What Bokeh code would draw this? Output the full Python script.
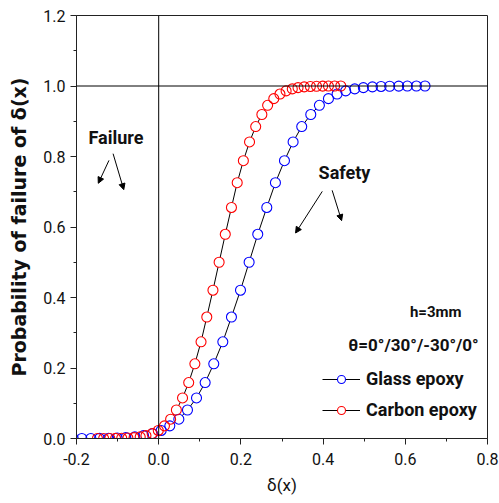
from bokeh.plotting import figure
from bokeh.models import (Range1d, FixedTicker, PrintfTickFormatter, Span,
                          Arrow, NormalHead, Legend, LegendItem)
from bokeh.core.properties import value
from bokeh.embed import file_html
from bokeh.resources import INLINE

# Glass epoxy: deflection ratio and probability of failure
delta_glass = [-0.208, -0.187, -0.165, -0.144, -0.122, -0.101, -0.080, -0.058, -0.037, -0.015,
               0.006, 0.027, 0.049, 0.070, 0.092, 0.113, 0.134, 0.156, 0.177, 0.199,
               0.220, 0.241, 0.263, 0.284, 0.306, 0.327, 0.348, 0.370, 0.391, 0.413,
               0.434, 0.455, 0.477, 0.498, 0.520, 0.541, 0.562, 0.584, 0.605, 0.627, 0.648]
prob_glass = [0.0000, 0.0001, 0.0002, 0.0003, 0.0007, 0.0013, 0.0026, 0.0047, 0.0082, 0.0139,
              0.0228, 0.0359, 0.0548, 0.0808, 0.1151, 0.1587, 0.2119, 0.2743, 0.3446, 0.4207,
              0.5000, 0.5793, 0.6554, 0.7257, 0.7881, 0.8413, 0.8849, 0.9192, 0.9452, 0.9641,
              0.9772, 0.9861, 0.9918, 0.9953, 0.9974, 0.9987, 0.9993, 0.9997, 0.9998, 0.9999, 1.0000]

# Carbon epoxy
delta_carbon = [-0.149, -0.134, -0.119, -0.105, -0.090, -0.075, -0.060, -0.045, -0.031, -0.016,
                -0.001, 0.014, 0.029, 0.043, 0.058, 0.073, 0.088, 0.103, 0.117, 0.132,
                0.147, 0.162, 0.177, 0.191, 0.206, 0.221, 0.236, 0.251, 0.265, 0.280,
                0.295, 0.310, 0.325, 0.339, 0.354, 0.369, 0.384, 0.399, 0.413, 0.428, 0.443]
prob_carbon = [0.0000, 0.0001, 0.0002, 0.0003, 0.0007, 0.0013, 0.0026, 0.0047, 0.0082, 0.0139,
               0.0228, 0.0359, 0.0548, 0.0808, 0.1151, 0.1587, 0.2119, 0.2743, 0.3446, 0.4207,
               0.5000, 0.5793, 0.6554, 0.7257, 0.7881, 0.8413, 0.8849, 0.9192, 0.9452, 0.9641,
               0.9772, 0.9861, 0.9918, 0.9953, 0.9974, 0.9987, 0.9993, 0.9997, 0.9998, 0.9999, 1.0000]

series_names = ["Glass epoxy", "Carbon epoxy"]
series_colors = ["#0000FF", "#FF0000"]

# axis ticks
x_ticks = [-0.2, 0.0, 0.2, 0.4, 0.6, 0.8]
x_minor = [-0.1, 0.1, 0.3, 0.5, 0.7]
y_ticks = [0.0, 0.2, 0.4, 0.6, 0.8, 1.0, 1.2]
y_minor = [0.1, 0.3, 0.5, 0.7, 0.9, 1.1]

FONT = "Roboto"
INK = "#111111"

p = figure(width=499, height=503, output_backend="svg", toolbar_location=None,
           x_range=Range1d(-0.2, 0.8), y_range=Range1d(0, 1.2),
           min_border_left=76, min_border_right=12, min_border_top=15, min_border_bottom=65)
p.grid.visible = False
p.outline_line_color = "#222222"
p.outline_line_width = 1
p.background_fill_color = "white"
p.border_fill_color = "white"

p.xaxis.ticker = FixedTicker(ticks=x_ticks, minor_ticks=x_minor)
p.yaxis.ticker = FixedTicker(ticks=y_ticks, minor_ticks=y_minor)
for ax in (p.xaxis[0], p.yaxis[0]):
    ax.formatter = PrintfTickFormatter(format="%.1f")
    ax.axis_line_color = "#222222"
    ax.major_tick_line_color = "#222222"
    ax.minor_tick_line_color = "#222222"
    ax.major_tick_in = 0
    ax.major_tick_out = 6
    ax.minor_tick_in = 0
    ax.minor_tick_out = 3
    ax.major_label_text_font = FONT
    ax.major_label_text_font_size = "16px"
    ax.major_label_text_color = INK
p.xaxis.major_label_standoff = 8
p.yaxis.major_label_standoff = 5

p.xaxis.axis_label = "δ(x)"
p.xaxis.axis_label_text_font = FONT
p.xaxis.axis_label_text_font_style = "normal"
p.xaxis.axis_label_text_font_size = "17px"
p.xaxis.axis_label_text_color = INK
p.xaxis.axis_label_standoff = 7

p.yaxis.axis_label = "Probability of failure of δ(x)"
p.yaxis.axis_label_text_font = "DejaVu Sans"
p.yaxis.axis_label_text_font_style = "bold"
p.yaxis.axis_label_text_font_size = "19px"
p.yaxis.axis_label_text_color = INK
p.yaxis.axis_label_standoff = 10

# reference lines at P = 1 and delta = 0
p.add_layout(Span(location=1.0, dimension="width", line_color="black", line_width=1))
p.add_layout(Span(location=0.0, dimension="height", line_color="black", line_width=1))

data = [(delta_glass, prob_glass), (delta_carbon, prob_carbon)]
lines, fills, outlines = [], [], []
for (xs, ys), c in zip(data, series_colors):
    lines.append(p.line(xs, ys, line_color="black", line_width=1))
for (xs, ys), c in zip(data, series_colors):
    fills.append(p.scatter(xs, ys, marker="circle", size=10, fill_color="white",
                           line_color=None))
for (xs, ys), c in zip(data, series_colors):
    outlines.append(p.scatter(xs, ys, marker="circle", size=10, fill_color=None,
                              line_color=c, line_width=1.1))

legend = Legend(items=[LegendItem(label=n, renderers=[l, f, o])
                       for n, l, f, o in zip(series_names, lines, fills, outlines)],
                location=(246, 18), glyph_width=38, glyph_height=20, label_height=20,
                spacing=10, padding=0, margin=0, label_standoff=6,
                border_line_color=None, background_fill_alpha=0,
                label_text_font=FONT, label_text_font_style="bold",
                label_text_font_size="18px", label_text_color=INK)
p.add_layout(legend)

# annotations
p.text(x=[-0.104], y=[0.853], text=["Failure"], text_align="center", text_baseline="middle",
       text_font=value(FONT), text_font_style="bold", text_font_size="18px", text_color=INK)
p.text(x=[0.452], y=[0.756], text=["Safety"], text_align="center", text_baseline="middle",
       text_font=value(FONT), text_font_style="bold", text_font_size="18px", text_color=INK)
p.text(x=[0.674], y=[0.360], text=["h=3mm"], text_align="center", text_baseline="middle",
       text_font=value(FONT), text_font_style="bold", text_font_size="15px", text_color=INK)
p.text(x=[0.620], y=[0.266], text=["θ=0°/30°/-30°/0°"], text_align="center", text_baseline="middle",
       text_font=value(FONT), text_font_style="bold", text_font_size="17px", text_color=INK)

arrow_segments = [(-0.121, 0.789, -0.147, 0.724), (-0.111, 0.808, -0.085, 0.706),
                  (0.398, 0.701, 0.333, 0.583), (0.422, 0.704, 0.445, 0.618)]
for x0, y0, x1, y1 in arrow_segments:
    p.add_layout(Arrow(x_start=x0, y_start=y0, x_end=x1, y_end=y1, line_width=1,
                       line_color="black",
                       end=NormalHead(size=6, fill_color="black", line_color="black")))

open("out.html", "w").write(file_html(p, INLINE))
